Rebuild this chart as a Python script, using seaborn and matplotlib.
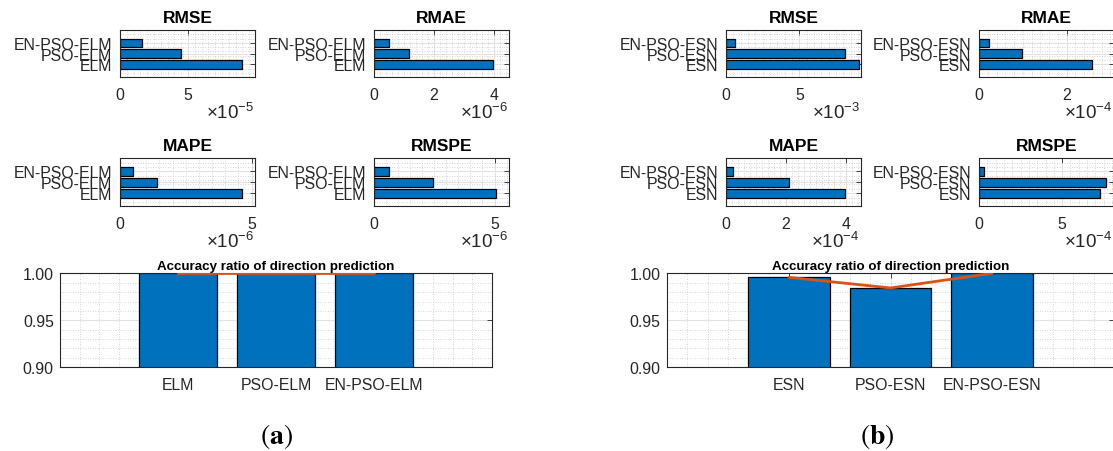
import numpy as np
import pandas as pd
import matplotlib
matplotlib.use("Agg")
import matplotlib.pyplot as plt
from matplotlib.ticker import MultipleLocator, FuncFormatter
import seaborn as sns

# ---------------------------------------------------------------- data
elm_models = ["ELM", "PSO-ELM", "EN-PSO-ELM"]
esn_models = ["ESN", "PSO-ESN", "EN-PSO-ESN"]
metric_titles = ["RMSE", "RMAE", "MAPE", "RMSPE"]
direction_title = "Accuracy ratio of direction prediction"

elm_rmse = [8.95e-5, 4.46e-5, 1.59e-5]
elm_rmae = [3.95e-6, 1.18e-6, 0.49e-6]
elm_mape = [4.62e-6, 1.39e-6, 0.51e-6]
elm_rmspe = [5.07e-6, 2.44e-6, 0.62e-6]
elm_direction = [1.0, 1.0, 1.0]

esn_rmse = [9.09e-3, 8.09e-3, 0.59e-3]
esn_rmae = [2.57e-4, 0.97e-4, 0.23e-4]
esn_mape = [3.95e-4, 2.09e-4, 0.23e-4]
esn_rmspe = [7.27e-4, 7.61e-4, 0.28e-4]
esn_direction = [0.9957, 0.9844, 1.0]

# ---------------------------------------------------------------- style
sns.set_style("white")
plt.rcParams["font.family"] = ["Liberation Sans", "DejaVu Sans"]
plt.rcParams["mathtext.fontset"] = "custom"
plt.rcParams["mathtext.rm"] = "Liberation Sans"
plt.rcParams["mathtext.it"] = "Liberation Sans:italic"
plt.rcParams["mathtext.bf"] = "Liberation Sans:bold"

BLUE = "#0072BD"
ORANGE = "#D95319"
INK = "#262626"
W, H = 1113, 452

fig = plt.figure(figsize=(W / 100, H / 100), dpi=100)


def px_axes(x0, y0, x1, y1):
    return fig.add_axes([x0 / W, 1 - y1 / H, (x1 - x0) / W, (y1 - y0) / H])


def style_axes(ax):
    for sp in ax.spines.values():
        sp.set_visible(True)
        sp.set_color(INK)
        sp.set_linewidth(0.8)
    ax.set_axisbelow(True)
    ax.grid(True, which="major", color="#e2e2e2", lw=0.8, ls="-")
    ax.grid(True, which="minor", color="#c8c8c8", lw=0.6, ls=(0, (1, 2)))
    ax.tick_params(which="major", direction="in", top=True, right=True,
                   length=3.5, width=0.6, color=INK,
                   labelsize=11.4, labelcolor=INK)
    ax.tick_params(which="minor", length=0)
    ax.set_xlabel("")
    ax.set_ylabel("")


def metric_panel(box, models, values, title, xmax, step, exponent):
    ax = px_axes(*box)
    df = pd.DataFrame({"model": models, "value": values})
    sns.barplot(data=df, x="value", y="model", order=models[::-1],
                orient="h", color=BLUE, saturation=1, width=0.8,
                edgecolor="black", linewidth=0.9, ax=ax)
    style_axes(ax)
    ax.set_xlim(0, xmax)
    ax.set_ylim(3.2, -1.2)
    scale = 10.0 ** exponent
    ax.xaxis.set_major_locator(MultipleLocator(step))
    ax.xaxis.set_major_formatter(FuncFormatter(lambda v, _: f"{v / scale:g}"))
    ax.xaxis.set_minor_locator(MultipleLocator(step / 10))
    ax.yaxis.set_minor_locator(MultipleLocator(0.4))
    ax.tick_params(axis="y", pad=5.5)
    ax.tick_params(axis="x", pad=7)
    ax.set_title(title, fontsize=12.5, fontweight="bold", pad=6, color="black")
    # power-of-ten multiplier under the x axis
    fig.text((box[2] - 1) / W, 1 - (box[3] + 41) / H,
             "×10$^{%d}$" % exponent, ha="right", va="baseline",
             fontsize=13.5, color=INK)
    return ax


def direction_panel(box, models, ratios):
    ax = px_axes(*box)
    df = pd.DataFrame({"model": models, "ratio": ratios})
    sns.barplot(data=df, x="model", y="ratio", order=models,
                color=BLUE, saturation=1, width=0.8,
                edgecolor="black", linewidth=0.9, ax=ax)
    ax.plot(np.arange(len(models)), ratios, color=ORANGE, lw=2.0,
            zorder=4, clip_on=True)
    style_axes(ax)
    ax.set_xlim(-1.2, 3.2)
    ax.set_ylim(0.9, 1.0)
    ax.yaxis.set_major_locator(MultipleLocator(0.05))
    ax.yaxis.set_major_formatter(FuncFormatter(lambda v, _: f"{v:.2f}"))
    ax.yaxis.set_minor_locator(MultipleLocator(0.01))
    ax.xaxis.set_minor_locator(MultipleLocator(0.2))
    ax.tick_params(axis="y", pad=4.5)
    ax.tick_params(axis="x", pad=7)
    ax.set_title(direction_title, fontsize=9.6, fontweight="bold",
                 pad=3.0, color="black")
    return ax


# ---------------------------------------------------------------- (a) ELM
metric_panel((120, 31, 255, 78.3), elm_models, elm_rmse, metric_titles[0], 9.93e-5, 5e-5, -5)
metric_panel((374, 31, 509, 78.3), elm_models, elm_rmae, metric_titles[1], 4.5e-6, 2e-6, -6)
metric_panel((120, 159.3, 255, 207.3), elm_models, elm_mape, metric_titles[2], 5.13e-6, 5e-6, -6)
metric_panel((374, 159.3, 509, 207.3), elm_models, elm_rmspe, metric_titles[3], 5.6e-6, 5e-6, -6)
direction_panel((60, 274.3, 492, 368.3), elm_models, elm_direction)

# ---------------------------------------------------------------- (b) ESN
metric_panel((726, 31, 861, 78.3), esn_models, esn_rmse, metric_titles[0], 9.2e-3, 5e-3, -3)
metric_panel((979, 31, 1114, 78.3), esn_models, esn_rmae, metric_titles[1], 3.08e-4, 2e-4, -4)
metric_panel((726, 159.3, 861, 207.3), esn_models, esn_mape, metric_titles[2], 4.5e-4, 2e-4, -4)
metric_panel((979, 159.3, 1114, 207.3), esn_models, esn_rmspe, metric_titles[3], 8.12e-4, 5e-4, -4)
direction_panel((667, 274.3, 1114, 368.3), esn_models, esn_direction)

# ---------------------------------------------------------------- captions
for cx, letter in ((276, "a"), (877, "b")):
    fig.text(cx / W, 1 - 437 / H, r"$(\mathbf{%s})$" % letter,
             math_fontfamily="stix", fontsize=20, ha="center", va="center",
             color="black")

fig.savefig("out.png", dpi=100, facecolor="white")
